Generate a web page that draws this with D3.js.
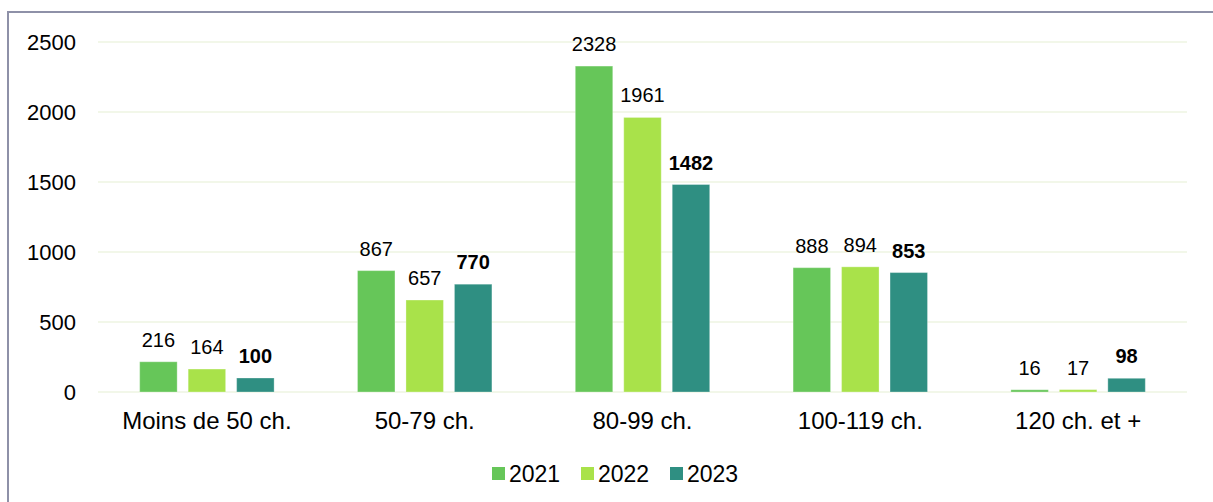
<!DOCTYPE html>
<html>
<head>
<meta charset="utf-8">
<script src="https://cdn.jsdelivr.net/npm/d3@7"></script>
<style>
  body { margin: 0; background: #fff; }
  text { font-family: "Liberation Sans", Arial, sans-serif; fill: #000; }
</style>
</head>
<body>
<div id="chart"></div>
<script>
// data
var categories = ["Moins de 50 ch.", "50-79 ch.", "80-99 ch.", "100-119 ch.", "120 ch. et +"];
var series = ["2021", "2022", "2023"];
var values2021 = [216, 867, 2328, 888, 16];
var values2022 = [164, 657, 1961, 894, 17];
var values2023 = [100, 770, 1482, 853, 98];
var yTicks = [0, 500, 1000, 1500, 2000, 2500];
var colors = ["#66c659", "#a9e24a", "#2f8f82"];

var svgWidth = 1213;
var svgHeight = 502;

var margin = { top: 42, right: 26, bottom: 110, left: 98 };
var width = svgWidth - margin.left - margin.right;
var height = svgHeight - margin.top - margin.bottom;

var svg = d3.select("#chart")
  .append("svg")
  .attr("width", svgWidth)
  .attr("height", svgHeight);

// frame (only top and left edges fall inside the picture)
svg.append("rect")
  .attr("x", 8)
  .attr("y", 12)
  .attr("width", svgWidth + 20)
  .attr("height", svgHeight + 20)
  .attr("fill", "none")
  .attr("stroke", "#8e91a8")
  .attr("stroke-width", 2);

var chartGroup = svg.append("g")
  .attr("transform", `translate(${margin.left}, ${margin.top})`);

var rows = categories.map(function(c, i) {
  return { cat: c, vals: [values2021[i], values2022[i], values2023[i]] };
});

var x0 = d3.scaleBand()
  .domain(categories)
  .range([0, width]);

var x1 = d3.scaleBand()
  .domain(series)
  .range([0, x0.bandwidth()])
  .paddingInner(0.227)
  .paddingOuter(0.86);

var y = d3.scaleLinear()
  .domain([0, 2500])
  .range([height, 0]);

// gridlines
chartGroup.append("g")
  .selectAll("line")
  .data(yTicks)
  .enter()
  .append("line")
  .attr("x1", 0)
  .attr("x2", width)
  .attr("y1", d => y(d))
  .attr("y2", d => y(d))
  .attr("stroke", "#eef5e2")
  .attr("stroke-width", 1.5);

// y axis labels
var leftAxis = d3.axisLeft(y).tickValues(yTicks).tickFormat(d3.format("d")).tickSize(0).tickPadding(22);
var yAxis = chartGroup.append("g").call(leftAxis);
yAxis.select(".domain").remove();
yAxis.selectAll("text")
  .style("font-size", "22px")
  .attr("fill", "#000")
  .attr("dy", "0.35em");

// x axis labels
var bottomAxis = d3.axisBottom(x0).tickSize(0).tickPadding(20);
var xAxis = chartGroup.append("g")
  .attr("transform", `translate(0, ${height})`)
  .call(bottomAxis);
xAxis.select(".domain").remove();
xAxis.selectAll("text")
  .style("font-size", "24px")
  .attr("fill", "#000");

// bars
var groups = chartGroup.selectAll(".cat")
  .data(rows)
  .enter()
  .append("g")
  .attr("class", "cat")
  .attr("transform", d => `translate(${x0(d.cat)}, 0)`);

groups.selectAll("rect")
  .data(d => d.vals.map((v, j) => ({ s: series[j], v: v, j: j })))
  .enter()
  .append("rect")
  .attr("x", d => x1(d.s))
  .attr("y", d => y(d.v))
  .attr("width", x1.bandwidth())
  .attr("height", d => height - y(d.v))
  .attr("fill", d => colors[d.j])
  .attr("stroke", "#ffffff")
  .attr("stroke-opacity", 0.3)
  .attr("stroke-width", 1);

// value labels
groups.selectAll(".val")
  .data(d => d.vals.map((v, j) => ({ s: series[j], v: v, j: j })))
  .enter()
  .append("text")
  .attr("class", "val")
  .attr("x", d => x1(d.s) + x1.bandwidth() / 2)
  .attr("y", d => y(d.v) - 15)
  .attr("text-anchor", "middle")
  .style("font-size", "20px")
  .style("font-weight", d => d.j === 2 ? "bold" : "normal")
  .text(d => d.v);

// legend
var legendX = [492, 581, 670];
var legend = svg.append("g")
  .selectAll("g")
  .data(series)
  .enter()
  .append("g")
  .attr("transform", (d, i) => `translate(${legendX[i]}, 467)`);

legend.append("rect")
  .attr("width", 13)
  .attr("height", 13)
  .attr("fill", (d, i) => colors[i]);

legend.append("text")
  .attr("x", 17)
  .attr("y", 6.5)
  .attr("dy", "0.35em")
  .style("font-size", "23px")
  .text(d => d);
</script>
</body>
</html>
